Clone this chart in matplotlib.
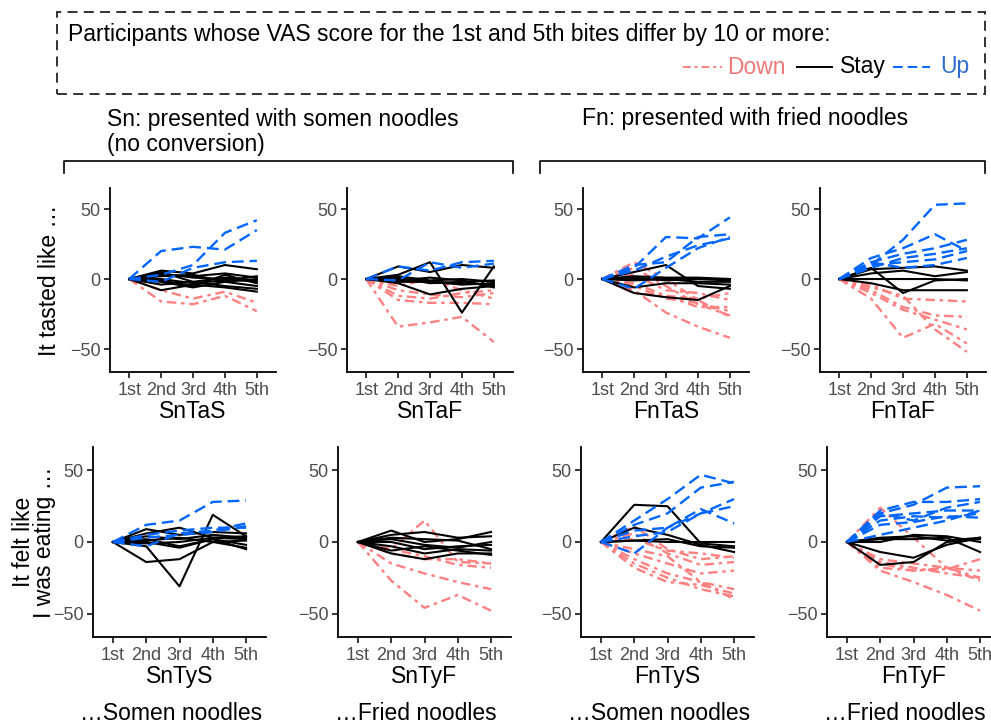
import matplotlib.pyplot as plt
from matplotlib.lines import Line2D
from matplotlib.patches import Rectangle

plt.rcParams['font.family'] = ['Liberation Sans', 'DejaVu Sans']

W, H = 991, 726

bites = ["1st", "2nd", "3rd", "4th", "5th"]

# VAS change from the 1st bite
SnTaS_down = [[0, -16, -18, -12, -23], [0, -8, -14, -9, -17]]
SnTaS_stay = [[0, 6, 4, 10, 7], [0, -8, -4, -6, -9], [0, 3, 2, 4, 1], [0, -2, -6, -2, -5],
              [0, 4, 1, 0, -2], [0, 0, -3, -1, 2], [0, -4, -2, -5, -7], [0, 2, 3, -2, 0],
              [0, -1, -5, 3, -3], [0, 5, -2, 1, -1]]
SnTaS_up = [[0, 20, 23, 21, 35], [0, 3, 10, 33, 42], [0, -2, 8, 12, 13]]

SnTaF_down = [[0, -34, -31, -27, -45], [0, -15, -17, -17, -18], [0, -8, -11, -13, -10],
              [0, -5, 0, -8, -14], [0, -12, -14, -10, -8]]
SnTaF_stay = [[0, 3, 12, -24, 9], [0, 9, 5, 10, 8], [0, -3, -11, -7, -5], [0, 0, -2, -3, -4],
              [0, -1, 1, -1, -6], [0, 2, -1, 0, -2], [0, 1, -3, -2, -1], [0, -2, -2, -4, -3]]
SnTaF_up = [[0, 9, 6, 12, 13], [0, -1, 12, 8, 11]]

FnTaS_down = [[0, -8, -24, -34, -42], [0, 12, 0, -15, -27], [0, 8, -5, -18, -26],
              [0, -5, -14, -17, -23], [0, -3, -12, -20, -20], [0, 3, -8, -10, -15],
              [0, -10, -12, -14, -10]]
FnTaS_stay = [[0, 5, 10, -5, -7], [0, -10, -13, -15, -5], [0, -6, -3, -3, -4], [0, 0, 0, 0, 0],
              [0, 1, -1, 0, -1], [0, -1, 0, -2, -2], [0, 2, 1, 1, 0]]
FnTaS_up = [[0, 8, 30, 29, 44], [0, 6, 16, 24, 29], [0, 10, 12, 30, 32], [0, -7, 8, 22, 30]]

FnTaF_down = [[0, -4, -14, -15, -16], [0, -14, -42, -32, -46], [0, -10, -22, -29, -36],
              [0, -6, -12, -36, -52], [0, -8, -20, -26, -27]]
FnTaF_stay = [[0, 7, 8, 9, 6], [0, 8, -10, -1, 0], [0, 0, 0, 0, -1], [0, -3, -8, -8, -8],
              [0, 4, 6, 2, 5]]
FnTaF_up = [[0, 10, 28, 53, 54], [0, 15, 22, 32, 20], [0, 12, 18, 22, 28], [0, 8, 15, 18, 22],
            [0, 10, 12, 14, 20], [0, 12, 8, 10, 15]]

SnTyS_down = []
SnTyS_stay = [[0, -3, -31, 19, 4], [0, -14, -12, 0, -4], [0, 9, 5, 7, 6], [0, 6, 10, 3, 4],
              [0, 2, -3, 2, -2], [0, 0, -4, 2, -5], [0, 4, 2, 5, 3], [0, 1, 3, 0, 1],
              [0, -1, 0, 3, 2]]
SnTyS_up = [[0, 12, 15, 28, 29], [0, -3, 6, 8, 13], [0, 3, 5, 7, 11], [0, 5, 8, 10, 10]]

SnTyF_down = [[0, -27, -46, -37, -48], [0, -15, -22, -28, -33], [0, -5, 15, -14, -15],
              [0, -5, -10, -16, -18], [0, -8, -12, -12, -15]]
SnTyF_stay = [[0, 8, 0, 2, 7], [0, 5, 7, 3, 4], [0, -8, -12, -8, -8], [0, -6, -3, -6, -9],
              [0, 2, -2, -4, 0], [0, 0, -5, -3, -2], [0, 3, 2, 1, -5], [0, -3, -8, -5, -6]]
SnTyF_up = []

FnTyS_down = [[0, 11, -5, -12, -10], [0, 6, -8, -16, -14], [0, -8, -15, -22, -20],
              [0, -12, -22, -28, -33], [0, -18, -28, -30, -36], [0, -15, -25, -33, -38],
              [0, -5, -10, -28, -40], [0, 2, -6, -8, -11]]
FnTyS_stay = [[0, 26, 25, -1, -3], [0, 10, 5, -2, -7], [0, 1, 0, 0, 0], [0, 1, 2, -3, -4]]
FnTyS_up = [[0, 15, 30, 47, 41], [0, 12, 20, 38, 42], [0, 8, 10, 23, 13], [0, 4, 7, 20, 25],
            [0, -8, 10, 20, 30]]

FnTyF_down = [[0, 24, 3, -18, -27], [0, -20, -28, -37, -48], [0, -15, -20, -18, -25],
              [0, -18, -20, -19, -12], [0, -14, -18, -22, -25], [0, -12, -15, -18, -20]]
FnTyF_stay = [[0, 0, 5, 4, 0], [0, -7, -11, -2, 3], [0, -16, -14, 0, 2], [0, 2, 2, 3, -7],
              [0, 3, 4, 1, 3]]
FnTyF_up = [[0, 20, 26, 38, 39], [0, 22, 28, 28, 30], [0, 18, 20, 22, 22], [0, 15, 18, 17, 20],
            [0, 12, 14, 18, 17], [0, 5, 10, 15, 22], [0, 20, 15, 24, 28]]

top_names = ["SnTaS", "SnTaF", "FnTaS", "FnTaF"]
bottom_names = ["SnTyS", "SnTyF", "FnTyS", "FnTyF"]
bottom_sub = ["\u2026Somen noodles", "\u2026Fried noodles", "\u2026Somen noodles", "\u2026Fried noodles"]

panels = {
    "SnTaS": (SnTaS_down, SnTaS_stay, SnTaS_up), "SnTaF": (SnTaF_down, SnTaF_stay, SnTaF_up),
    "FnTaS": (FnTaS_down, FnTaS_stay, FnTaS_up), "FnTaF": (FnTaF_down, FnTaF_stay, FnTaF_up),
    "SnTyS": (SnTyS_down, SnTyS_stay, SnTyS_up), "SnTyF": (SnTyF_down, SnTyF_stay, SnTyF_up),
    "FnTyS": (FnTyS_down, FnTyS_stay, FnTyS_up), "FnTyF": (FnTyF_down, FnTyF_stay, FnTyF_up),
}

pink = "#FF8080"
blue = "#0066FF"
down_ls = (0, (4, 2, 1.5, 2))
up_ls = (0, (5, 2.5))
FS = 16.5


def px(x, y):
    return x / W, 1 - y / H


def make_axes(left, top, width, height):
    return fig.add_axes([left / W, 1 - (top + height) / H, width / W, height / H])


def draw_panel(ax, name, ylim):
    down, stay, up = panels[name]
    x = list(range(1, 6))
    for v in down:
        ax.plot(x, v, color=pink, lw=1.7, ls=down_ls)
    for v in stay:
        ax.plot(x, v, color="black", lw=1.5)
    for v in up:
        ax.plot(x, v, color=blue, lw=1.7, ls=up_ls)
    ax.set_xlim(0.4, 5.6)
    ax.set_ylim(*ylim)
    ax.set_xticks(x)
    ax.set_xticklabels(bites)
    ax.set_yticks([-50, 0, 50])
    for s in ["top", "right"]:
        ax.spines[s].set_visible(False)
    for s in ["left", "bottom"]:
        ax.spines[s].set_linewidth(1.3)
    ax.tick_params(length=4, width=1.1, labelsize=13, labelcolor="#4D4D4D", pad=3)
    ax.set_xlabel(name, fontsize=FS, labelpad=1)
    ax.patch.set_alpha(0)


fig = plt.figure(figsize=(W / 100, H / 100), dpi=100)

top_left = [110, 347, 583, 820]
for left, name in zip(top_left, top_names):
    ax = make_axes(left, 188, 166, 184)
    draw_panel(ax, name, (-66.4, 65))

bottom_left = [93, 338, 581, 827]
for left, name, sub in zip(bottom_left, bottom_names, bottom_sub):
    ax = make_axes(left, 447, 173, 190)
    draw_panel(ax, name, (-66.4, 66.4))
    fig.text(*px(left + 78, 713), sub, fontsize=FS, ha="center", va="center")

# y labels
fig.text(*px(50, 280), "It tasted like \u2026", rotation=90, fontsize=FS, ha="center", va="center")
fig.text(*px(34, 542), "It felt like\nI was eating \u2026", rotation=90, fontsize=FS,
         ha="center", va="center", linespacing=0.85)

# group headers with brackets
fig.text(*px(107, 132), "Sn: presented with somen noodles\n(no conversion)", fontsize=FS,
         ha="left", va="center", linespacing=1.1)
fig.text(*px(582, 119), "Fn: presented with fried noodles", fontsize=FS, ha="left", va="center")
for x0, x1 in [(64, 513), (540, 985)]:
    xs = [x0, x0, x1, x1]
    ys = [173, 161, 161, 173]
    fig.add_artist(Line2D([x / W for x in xs], [1 - y / H for y in ys], color="black", lw=1.2))

# legend box
fig.add_artist(Rectangle(px(57, 94), 928 / W, 82 / H, fill=False, ls=(0, (5.5, 3.5)), lw=1.3,
                         edgecolor="#222222"))
fig.text(*px(68, 35), "Participants whose VAS score for the 1st and 5th bites differ by 10 or more:",
         fontsize=FS, ha="left", va="center")
legend_items = [(683, 722, pink, down_ls, "Down", "#F07878", 727),
                (797, 832, "black", "-", "Stay", "black", 840),
                (893, 930, blue, up_ls, "Up", "#2E6BD1", 940)]
for x0, x1, c, ls, lab, tc, tx in legend_items:
    fig.add_artist(Line2D([x0 / W, x1 / W], [1 - 67 / H] * 2, color=c, ls=ls, lw=1.4))
    fig.text(*px(tx, 67), lab, fontsize=FS, color=tc, ha="left", va="center")

fig.savefig("out.png", dpi=100)
